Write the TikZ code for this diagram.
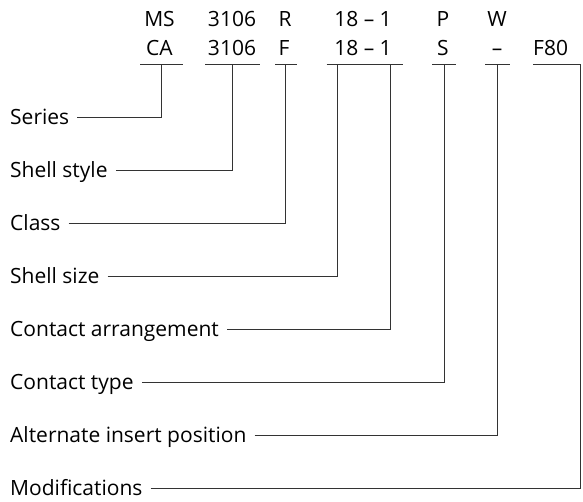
\documentclass[tikz,border=0pt]{standalone}
\usepackage{fontspec}
\setmainfont{Open Sans}
\usetikzlibrary{positioning}
\newcommand{\sizecode}{\fontsize{21}{25}\selectfont}
\tikzset{
    code/.style={inner sep=0pt, text height=15pt, text depth=0pt, font=\sizecode},
    field/.style={code, anchor=west},
    underline/.style={line width=0.8pt, black!80},
    leader/.style={line width=0.8pt, black!80, shorten <=8pt},
}

\begin{document}
\begin{tikzpicture}[x=1pt, y=-1pt]
    \useasboundingbox (0,0) rectangle (583,502);

    % the two part numbers
    \path
        (159.5,19) node[code] (ms) {MS}
        +(0,29) node[code] (ca) {CA}
        (232,19) node[code] (ms-style) {3106}
        +(0,29) node[code] (ca-style) {3106}
        (285,19) node[code] (ms-class) {R}
        +(-1,29) node[code] (ca-class) {F}
        (363,19) node[code] (ms-size) {18 -- 1}
        +(0,29) node[code] (ca-size) {18 -- 1}
        (443,19) node[code] (ms-type) {P}
        +(0,29) node[code] (ca-type) {S}
        (497,19) node[code] (ms-alt) {W}
        +(0,29) node[code] (ca-alt) {--}
        (533,48) node[code, anchor=west] (ca-mod) {F80};

    % underlines and the points where the leaders meet them
    \path
        (140,64) coordinate (ul-series-l) +(43,0) coordinate (ul-series-r)
        (205,64) coordinate (ul-style-l) +(55,0) coordinate (ul-style-r)
        (275,64) coordinate (ul-class-l) +(21.5,0) coordinate (ul-class-r)
        (326.7,64) coordinate (ul-size-l) +(76.6,0) coordinate (ul-size-r)
        (432,64) coordinate (ul-type-l) +(23.5,0) coordinate (ul-type-r)
        (485,64) coordinate (ul-alt-l) +(25,0) coordinate (ul-alt-r)
        (533,64) coordinate (ul-mod-l) +(47,0) coordinate (ul-mod-r);

    \path
        (161,64) coordinate (tap-series)
        (232.7,64) coordinate (tap-style)
        (285.7,64) coordinate (tap-class)
        (337.3,64) coordinate (tap-size)
        (390.5,64) coordinate (tap-arrangement)
        (444,64) coordinate (tap-type)
        (497.5,64) coordinate (tap-alt)
        (ul-mod-r) coordinate (tap-mod);

    \draw[underline] (ul-series-l) -- (ul-series-r) (ul-style-l) -- (ul-style-r)
        (ul-class-l) -- (ul-class-r) (ul-size-l) -- (ul-size-r)
        (ul-type-l) -- (ul-type-r) (ul-alt-l) -- (ul-alt-r) (ul-mod-l) -- (ul-mod-r);

    % field names
    \path
        (10,117) node[field] (series) {Series}
        ++(0,53) node[field] (style) {Shell style}
        ++(0,53) node[field] (class) {Class}
        ++(0,53) node[field] (size) {Shell size}
        ++(0,53) node[field] (arrangement) {Contact arrangement}
        ++(0,53) node[field] (type) {Contact type}
        ++(0,53) node[field] (alt) {Alternate insert position}
        ++(0,53) node[field] (mod) {Modifications};

    \draw[leader] (series.east) -| (tap-series);
    \draw[leader] (style.east) -| (tap-style);
    \draw[leader] (class.east) -| (tap-class);
    \draw[leader] (size.east) -| (tap-size);
    \draw[leader] (arrangement.east) -| (tap-arrangement);
    \draw[leader] (type.east) -| (tap-type);
    \draw[leader] (alt.east) -| (tap-alt);
    \draw[leader] (mod.east) -| (tap-mod);
\end{tikzpicture}
\end{document}
